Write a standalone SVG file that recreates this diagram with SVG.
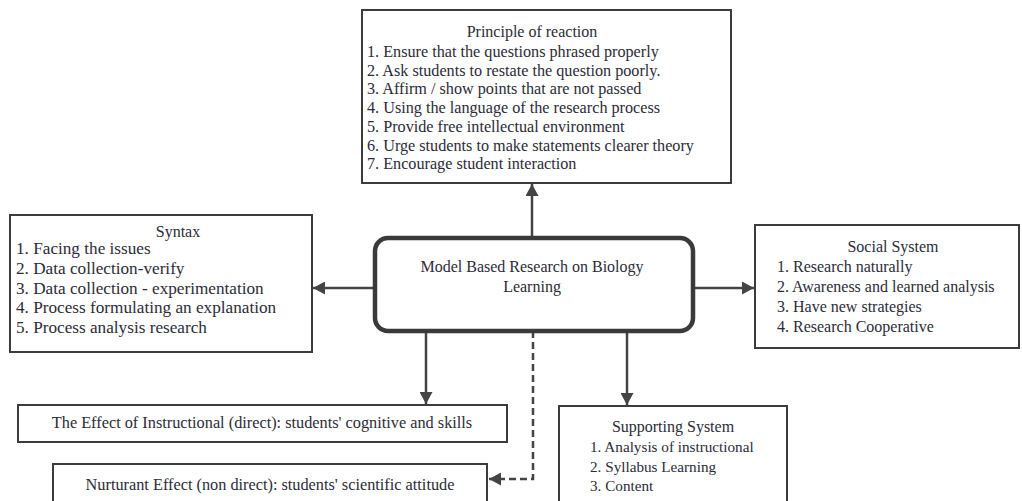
<svg xmlns="http://www.w3.org/2000/svg" width="1022" height="501" viewBox="0 0 1022 501">
<style>
.box{fill:#fff;stroke:#3c3c3c;stroke-width:2}
.center{fill:#fff;stroke:#3a3a3a;stroke-width:4.5}
.t{font-family:"Liberation Serif","Times New Roman",serif;font-size:16px;fill:#2c2c38}
.c{text-anchor:middle}
.con{stroke:#444;stroke-width:2.5;fill:none}
.dash{stroke-dasharray:7 4}
</style>
<defs>
<marker id="ah" markerWidth="13" markerHeight="13" refX="12" refY="6.5" orient="auto" markerUnits="userSpaceOnUse">
<path d="M0,0 L12,6.5 L0,13 z" fill="#444"/>
</marker>
</defs>
<rect width="1022" height="501" fill="#fff"/>
<g id="connectors">
<line class="con" x1="532" y1="238" x2="532" y2="184" marker-end="url(#ah)"/>
<line class="con" x1="375" y1="288" x2="313" y2="288" marker-end="url(#ah)"/>
<line class="con" x1="693" y1="288" x2="754" y2="288" marker-end="url(#ah)"/>
<line class="con" x1="426" y1="331" x2="426" y2="404" marker-end="url(#ah)"/>
<line class="con" x1="627" y1="331" x2="627" y2="405" marker-end="url(#ah)"/>
<path class="con dash" d="M533,331 L533,479 L489,479" marker-end="url(#ah)"/>
</g>
<g id="principle">
<rect class="box" x="362" y="10" width="369" height="173"/>
<text class="t c" x="532" y="37">Principle of reaction</text>
<text class="t" x="367" y="57" style="font-size:16.2px">1. Ensure that the questions phrased properly</text>
<text class="t" x="367" y="76" style="font-size:16.2px">2. Ask students to restate the question poorly.</text>
<text class="t" x="367" y="94" style="font-size:16.2px">3. Affirm / show points that are not passed</text>
<text class="t" x="367" y="113" style="font-size:16.2px">4. Using the language of the research process</text>
<text class="t" x="367" y="132" style="font-size:16.2px">5. Provide free intellectual environment</text>
<text class="t" x="367" y="151" style="font-size:16.2px">6. Urge students to make statements clearer theory</text>
<text class="t" x="367" y="169" style="font-size:16.2px">7. Encourage student interaction</text>
</g>
<g id="center">
<rect class="center" x="375" y="238" width="318" height="93" rx="13"/>
<text class="t c" x="532" y="272">Model Based Research on Biology</text>
<text class="t c" x="532" y="292">Learning</text>
</g>
<g id="syntax">
<rect class="box" x="10" y="215" width="302" height="137"/>
<text class="t c" x="178" y="237">Syntax</text>
<text class="t" x="16" y="254" style="font-size:17.2px">1. Facing the issues</text>
<text class="t" x="16" y="274" style="font-size:17.2px">2. Data collection-verify</text>
<text class="t" x="16" y="294" style="font-size:17.2px">3. Data collection - experimentation</text>
<text class="t" x="16" y="313" style="font-size:17.2px">4. Process formulating an explanation</text>
<text class="t" x="16" y="333" style="font-size:17.2px">5. Process analysis research</text>
</g>
<g id="social">
<rect class="box" x="755" y="225" width="264" height="123"/>
<text class="t c" x="893" y="252">Social System</text>
<text class="t" x="777" y="272">1. Research naturally</text>
<text class="t" x="777" y="292">2. Awareness and learned analysis</text>
<text class="t" x="777" y="312">3. Have new strategies</text>
<text class="t" x="777" y="332">4. Research Cooperative</text>
</g>
<g id="effect">
<rect class="box" x="18" y="405" width="489" height="37"/>
<text class="t c" x="262" y="428" style="font-size:16.3px">The Effect of Instructional (direct): students' cognitive and skills</text>
</g>
<g id="nurturant">
<rect class="box" x="53" y="464" width="434" height="44"/>
<text class="t c" x="270" y="490" style="font-size:16.3px">Nurturant Effect (non direct): students' scientific attitude</text>
</g>
<g id="supporting">
<rect class="box" x="559" y="406" width="228" height="102"/>
<text class="t c" x="673" y="432">Supporting System</text>
<text class="t" x="590" y="452" style="font-size:15.2px">1. Analysis of instructional</text>
<text class="t" x="590" y="472" style="font-size:15.2px">2. Syllabus Learning</text>
<text class="t" x="590" y="491" style="font-size:15.2px">3. Content</text>
</g>
</svg>
